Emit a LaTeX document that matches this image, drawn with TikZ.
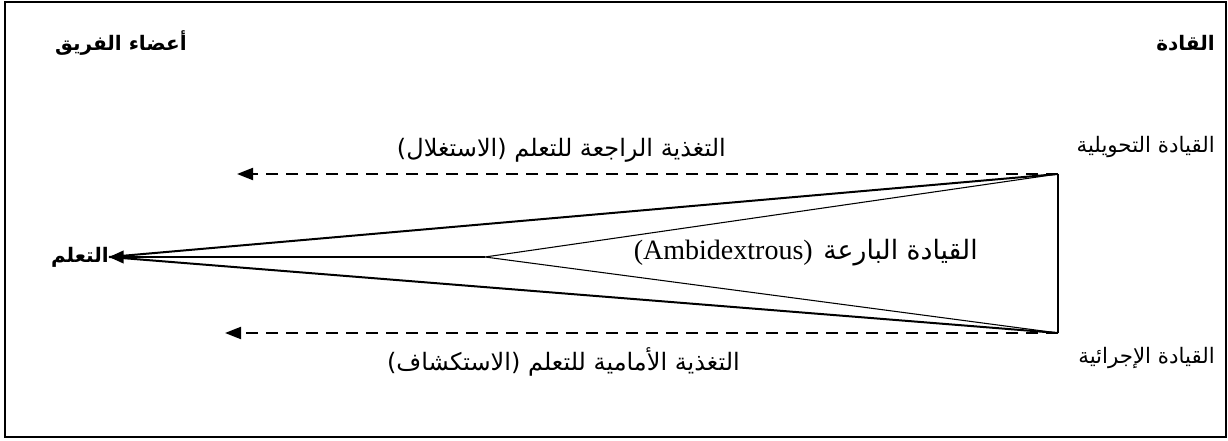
\documentclass[tikz,border=0pt]{standalone}
\usepackage{fontspec}
\setmainfont{Liberation Serif}
\newfontfamily\arabicfont[Script=Arabic]{DejaVu Sans}
\TeXXeTstate=1
\usetikzlibrary{arrows.meta}
\begin{document}
\begin{tikzpicture}[x=0.75pt,y=-0.75pt,
  lbl/.style={inner sep=0pt,font=\arabicfont\fontsize{16}{18}\selectfont},
  fblbl/.style={inner sep=0pt,font=\arabicfont\fontsize{18}{20}\selectfont},
  hdr/.style={inner sep=0pt,font=\arabicfont\bfseries\fontsize{15}{17}\selectfont},
  thick line/.style={line width=1.5pt},
  thin line/.style={line width=0.8pt},
  feedback/.style={line width=1.5pt,dash pattern=on 9pt off 6pt,-{Triangle[length=12pt,width=9pt]}},
  tip/.style={-{Triangle[length=11pt,width=9.5pt]}}]
  % frame
  \draw[line width=1.25pt] (5,2) rectangle (1226,437);
  \useasboundingbox (0,0) rectangle (1228,441);

  % headings
  \node[hdr,anchor=east] (team) at (187,43) {\beginR أعضاء الفريق\endR};
  \node[hdr,anchor=east] (leaders) at (1215,43) {\beginR القادة\endR};

  % leadership styles
  \node[lbl,anchor=east] (transf) at (1215,147) {\beginR القيادة التحويلية\endR};
  \node[lbl,anchor=east] (transa) at (1215,358) {\beginR القيادة الإجرائية\endR};

  % learning target
  \node[hdr,anchor=east] (learn) at (109,257) {\beginR التعلم\endR};

  % corner points of the fan
  \coordinate (tl) at (1058,174);
  \coordinate (bl) at (1058,333);
  \coordinate (mid) at (485,257);
  \coordinate (fbtip) at (237,174);
  \coordinate (fftip) at (225,333);

  % fan
  \draw[thin line] (tl) -- (bl);
  \draw[thin line] (tl) -- (mid) -- (bl);
  \draw[thick line] (tl) -- (learn.east);
  \draw[thick line] (bl) -- (learn.east);
  \draw[thick line,tip] (mid) -- (learn.east);

  % feedback / feedforward
  \draw[feedback] (tl) -- (fbtip);
  \draw[feedback] (bl) -- (fftip);
  \node[fblbl,anchor=east] (fb) at (726,150) {\beginR التغذية الراجعة للتعلم (الاستغلال)\endR};
  \node[fblbl,anchor=east] (ff) at (740,362) {\beginR التغذية الأمامية للتعلم (الاستكشاف)\endR};

  % ambidextrous label
  \node[inner sep=0pt,anchor=east,font=\arabicfont\fontsize{20}{22}\selectfont] (ambi) at (978,253) {\beginR القيادة البارعة\endR};
  \node[inner sep=0pt,anchor=east,font=\fontsize{21}{23}\selectfont] (ambien) at (813,253) {(Ambidextrous)};
\end{tikzpicture}
\end{document}
